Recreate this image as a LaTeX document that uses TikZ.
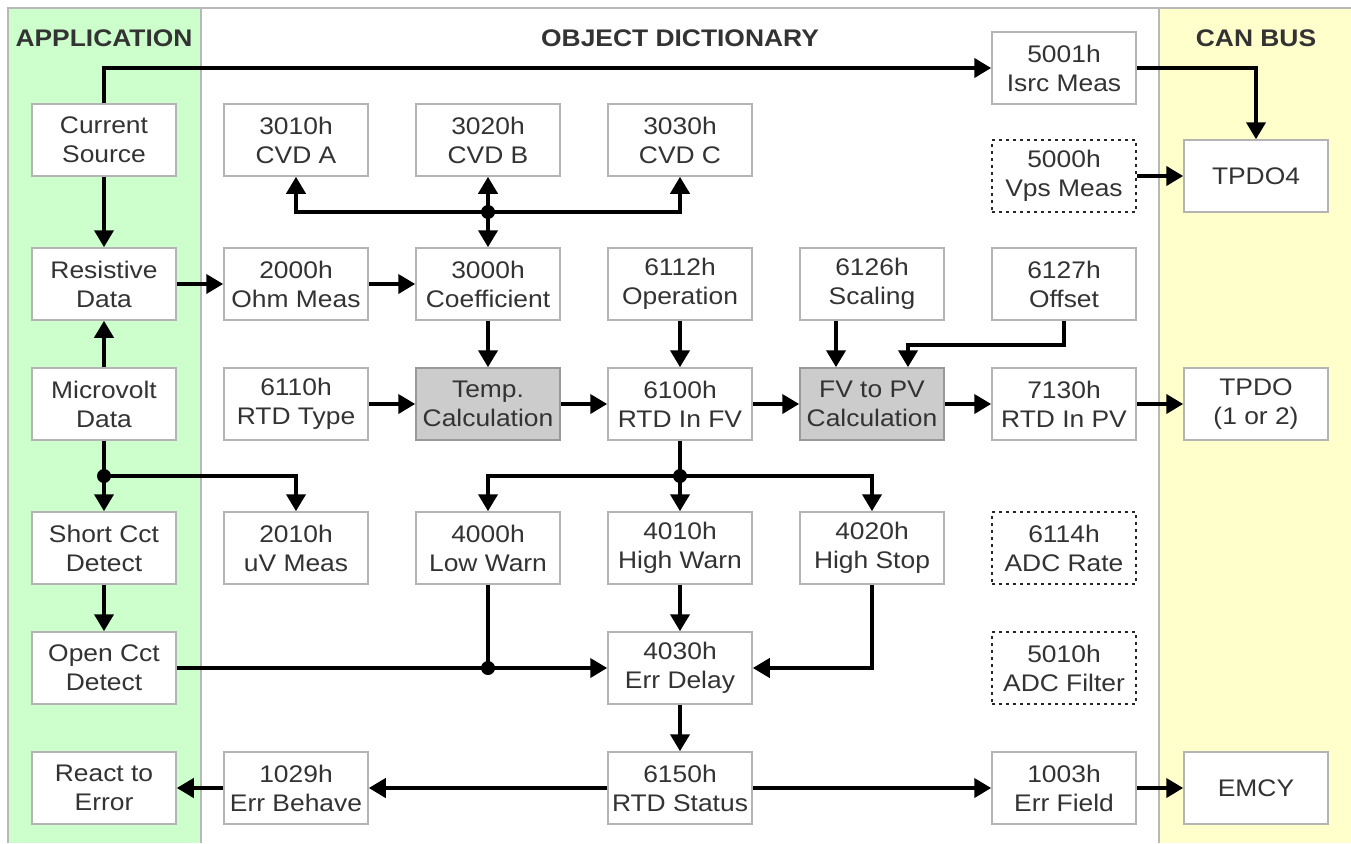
\documentclass[tikz,border=0pt]{standalone}
\usepackage{fontspec}
\setmainfont{Liberation Sans}[FakeStretch=1.1]
\usetikzlibrary{arrows.meta}
\definecolor{appgreen}{HTML}{CCFFCC}
\definecolor{canyellow}{HTML}{FFFFCC}
\definecolor{boxgray}{HTML}{B4B4B4}
\definecolor{calcgray}{HTML}{CCCCCC}
\definecolor{calcborder}{HTML}{999999}
\definecolor{txt}{HTML}{333333}
\definecolor{panelline}{HTML}{B8B8B8}
\begin{document}
\begin{tikzpicture}[x=1pt,y=-1pt,
  box/.style={draw=boxgray, line width=1.5pt, fill=white, minimum width=144pt, minimum height=72pt,
    inner sep=0pt, align=center, text=txt, font=\fontsize{24}{29}\selectfont},
  calcbox/.style={box, fill=calcgray, draw=calcborder},
  dbox/.style={box, draw=black!85, line width=2.2pt, dash pattern=on 3pt off 4pt},
  hdr/.style={text=txt, font=\bfseries\fontsize{24}{29}\selectfont, inner sep=0pt},
  arr/.style={line width=4pt, -{Triangle[width=19pt,length=17pt]}},
  ln/.style={line width=4pt},
  jdot/.style={circle, fill=black, inner sep=0pt, minimum size=14pt}]
\useasboundingbox (0,0) rectangle (1351,843);
% panels
\fill[appgreen] (8,8) rectangle (201,843);
\fill[canyellow] (1159,8) rectangle (1351,843);
\draw[panelline, line width=1.5pt] (8,843) -- (8,8) -- (1351,8);
\draw[panelline, line width=1.5pt] (201,8) -- (201,843);
\draw[panelline, line width=1.5pt] (1159,8) -- (1159,843);
% headers
\node[hdr] (hA) at (104,38) {APPLICATION};
\node[hdr] (hO) at (680,38) {OBJECT DICTIONARY};
\node[hdr] (hC) at (1256,38) {CAN BUS};
% application column
\node[box] (cs) at (104,140) {Current\\Source};
\node[box] (rd) at (104,284) {Resistive\\Data};
\node[box] (mv) at (104,404) {Microvolt\\Data};
\node[box] (sc) at (104,548) {Short Cct\\Detect};
\node[box] (oc) at (104,668) {Open Cct\\Detect};
\node[box] (re) at (104,788) {React to\\Error};
% object dictionary
\node[box] (o3010) at (296,140) {3010h\\CVD A};
\node[box] (o3020) at (488,140) {3020h\\CVD B};
\node[box] (o3030) at (680,140) {3030h\\CVD C};
\node[box] (o5001) at (1064,68) {5001h\\Isrc Meas};
\node[dbox] (o5000) at (1064,176) {5000h\\Vps Meas};
\node[box] (o2000) at (296,284) {2000h\\Ohm Meas};
\node[box] (o3000) at (488,284) {3000h\\Coefficient};
\node[box] (o6112) at (680,284) {6112h\\Operation};
\node[box] (o6126) at (872,284) {6126h\\Scaling};
\node[box] (o6127) at (1064,284) {6127h\\Offset};
\node[box] (o6110) at (296,404) {6110h\\RTD Type};
\node[calcbox] (temp) at (488,404) {Temp.\\Calculation};
\node[box] (o6100) at (680,404) {6100h\\RTD In FV};
\node[calcbox] (fvpv) at (872,404) {FV to PV\\Calculation};
\node[box] (o7130) at (1064,404) {7130h\\RTD In PV};
\node[box] (o2010) at (296,548) {2010h\\uV Meas};
\node[box] (o4000) at (488,548) {4000h\\Low Warn};
\node[box] (o4010) at (680,548) {4010h\\High Warn};
\node[box] (o4020) at (872,548) {4020h\\High Stop};
\node[dbox] (o6114) at (1064,548) {6114h\\ADC Rate};
\node[box] (o4030) at (680,668) {4030h\\Err Delay};
\node[dbox] (o5010) at (1064,668) {5010h\\ADC Filter};
\node[box] (o1029) at (296,788) {1029h\\Err Behave};
\node[box] (o6150) at (680,788) {6150h\\RTD Status};
\node[box] (o1003) at (1064,788) {1003h\\Err Field};
% CAN bus
\node[box] (tpdo4) at (1256,176) {TPDO4};
\node[box] (tpdo) at (1256,404) {TPDO\\(1 or 2)};
\node[box] (emcy) at (1256,788) {EMCY};
% junctions
\coordinate (j1) at (104,476);
\coordinate (j2) at (680,476);
\coordinate (j3) at (488,668);
\coordinate (j4) at (488,212);
% connectors
\draw[arr] (cs.north) |- (o5001.west);
\draw[arr] (o5001.east) -| (tpdo4.north);
\draw[arr] (o5000.east) -- (tpdo4.west);
\draw[arr] (cs.south) -- (rd.north);
\draw[arr] (rd.east) -- (o2000.west);
\draw[arr] (o2000.east) -- (o3000.west);
\draw[arr] (mv.north) -- (rd.south);
\draw[ln] (mv.south) -- (j1);
\draw[arr] (j1) -- (sc.north);
\draw[arr] (j1) -| (o2010.north);
\draw[arr] (sc.south) -- (oc.north);
\draw[arr] (oc.east) -- (o4030.west);
\draw[ln] (o4000.south) -- (j3);
\draw[arr] (o4020.south) |- (o4030.east);
\draw[arr] (o4010.south) -- (o4030.north);
\draw[arr] (o4030.south) -- (o6150.north);
\draw[arr] (o6150.west) -- (o1029.east);
\draw[arr] (o1029.west) -- (re.east);
\draw[arr] (o6150.east) -- (o1003.west);
\draw[arr] (o1003.east) -- (emcy.west);
\draw[ln] (o6100.south) -- (j2);
\draw[arr] (j2) -- (o4010.north);
\draw[arr] (j2) -| (o4000.north);
\draw[arr] (j2) -| (o4020.north);
\draw[arr] (j4) -| (o3010.south);
\draw[arr] (j4) -| (o3030.south);
\draw[arr] (j4) -- (o3020.south);
\draw[arr] (j4) -- (o3000.north);
\draw[arr] (o3000.south) -- (temp.north);
\draw[arr] (o6112.south) -- (o6100.north);
\draw[arr] (o6110.east) -- (temp.west);
\draw[arr] (temp.east) -- (o6100.west);
\draw[arr] (o6100.east) -- (fvpv.west);
\draw[arr] (fvpv.east) -- (o7130.west);
\draw[arr] (o7130.east) -- (tpdo.west);
\draw[arr] ([xshift=-36pt]o6126.south) -- ([xshift=-36pt]fvpv.north);
\draw[arr] (o6127.south) -- ++(0,24) -| ([xshift=36pt]fvpv.north);
% junction dots
\node[jdot] (d1) at (j1) {};
\node[jdot] (d2) at (j2) {};
\node[jdot] (d3) at (j3) {};
\node[jdot] (d4) at (j4) {};
\end{tikzpicture}
\end{document}
